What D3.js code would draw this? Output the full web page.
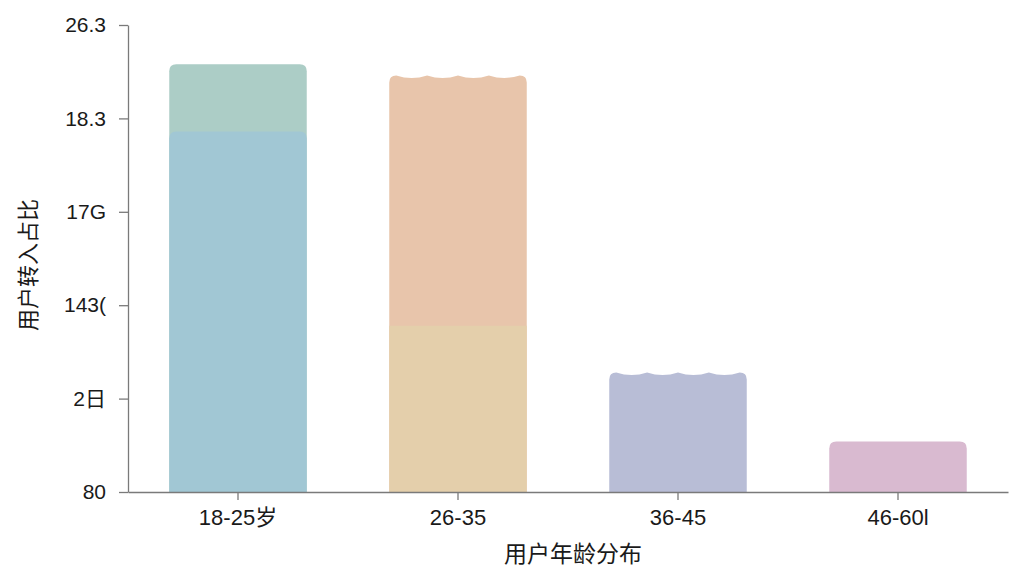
<!DOCTYPE html>
<html>
<head>
<meta charset="utf-8">
<script src="https://cdn.jsdelivr.net/npm/d3@7"></script>
<style>
  body { margin: 0; background: #fff; }
  text { font-family: "Liberation Sans", "Noto Sans CJK SC", sans-serif; fill: #1a1a1a; }
</style>
</head>
<body>
<div id="viz"></div>
<script>

/* age distribution bar chart */

// data
const ageGroups = ["18-25岁", "26-35", "36-45", "46-60l"];
const lowerShare = [19.3, 8.9, 6.4, 2.7];    // bottom segment of each bar
const upperShare = [3.6, 13.4, 0, 0];        // top segment stacked on it
const yTickValues = [0, 5, 10, 15, 20, 25];
const yTickLabels = ["80", "2日", "143(", "17G", "18.3", "26.3"];

const lowerColors = ["#a1c7d4", "#e4cfab", "#b8bdd6", "#d9bad0"];
const upperColors = ["#accdc6", "#e8c5ab", "#b8bdd6", "#d9bad0"];
const wavyTop = [false, true, true, false];

const margin = { top: 25, right: 16, bottom: 84, left: 128 },
  width = 1024 - margin.left - margin.right,
  height = 576 - margin.top - margin.bottom;

const svg = d3.select("#viz")
  .append("svg")
    .attr("width", 1024)
    .attr("height", 576)
  .append("g")
    .attr("transform", `translate(${margin.left},${margin.top})`);

const x = d3.scaleBand(ageGroups, [0, width])
  .paddingInner(0.375)
  .paddingOuter(0.1875);

const y = d3.scaleLinear([0, 25], [height, 0]);

// top outline of a bar: rounded corners, optionally a small wave
function barPath(x0, w, yTop, yBot, wavy) {
  const r = 7;
  let p = `M${x0},${yBot} L${x0},${yTop + r} Q${x0},${yTop} ${x0 + r},${yTop}`;
  if (wavy) {
    const n = 4, seg = (w - 2 * r) / n;
    for (let i = 0; i < n; i++) {
      const sx = x0 + r + i * seg;
      p += ` Q${sx + seg / 2},${yTop + 5} ${sx + seg},${yTop}`;
    }
  } else {
    p += ` L${x0 + w - r},${yTop}`;
  }
  p += ` Q${x0 + w},${yTop} ${x0 + w},${yTop + r} L${x0 + w},${yBot} Z`;
  return p;
}

const bars = ageGroups.map((g, i) => ({
  group: g, lower: lowerShare[i], upper: upperShare[i], i: i
}));

// full bar (upper colour), then lower segment drawn over it
svg.selectAll(".bar-upper")
  .data(bars)
  .join("path")
    .attr("class", "bar-upper")
    .attr("fill", d => upperColors[d.i])
    .attr("d", d => barPath(x(d.group), x.bandwidth(),
        y(d.lower + d.upper), y(0), wavyTop[d.i]));

svg.selectAll(".bar-lower")
  .data(bars.filter(d => d.upper > 0))
  .join("path")
    .attr("class", "bar-lower")
    .attr("fill", d => lowerColors[d.i])
    .attr("d", d => {
      const x0 = x(d.group), w = x.bandwidth(), t = y(d.lower), b = y(0);
      return d.i === 0
        ? barPath(x0, w, t, b, false)
        : `M${x0},${b} L${x0},${t} L${x0 + w},${t} L${x0 + w},${b} Z`;
    });

// axes
const axisX = svg.append("g")
  .attr("transform", `translate(0,${height})`)
  .call(d3.axisBottom(x).tickSize(8).tickSizeOuter(0).tickPadding(9));

const axisY = svg.append("g")
  .call(d3.axisLeft(y)
    .tickValues(yTickValues)
    .tickFormat((d, i) => yTickLabels[i])
    .tickSize(9).tickSizeOuter(0).tickPadding(13));

[axisX, axisY].forEach(a => {
  a.select(".domain").attr("stroke", "#7a7a7a").attr("stroke-width", 1.3);
  a.selectAll(".tick line").attr("stroke", "#7a7a7a").attr("stroke-width", 1.3);
});
axisX.selectAll("text").style("font-size", "22px").attr("fill", "#1a1a1a");
axisY.selectAll("text").style("font-size", "21px").attr("fill", "#1a1a1a");

// axis titles
svg.append("text")
  .attr("text-anchor", "middle")
  .attr("x", width / 2 + 5)
  .attr("y", height + 70)
  .style("font-size", "23px")
  .text("用户年龄分布");

svg.append("text")
  .attr("text-anchor", "middle")
  .attr("transform", `translate(${-92},${265 - margin.top}) rotate(-90)`)
  .style("font-size", "22px")
  .text("用户转入占比");

</script>
</body>
</html>
